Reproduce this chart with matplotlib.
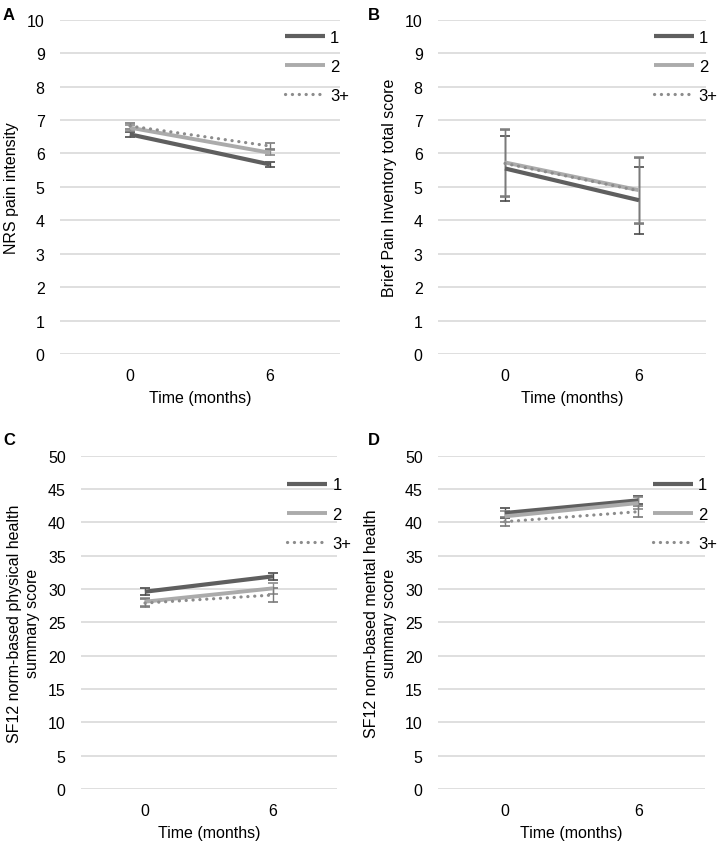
import matplotlib.pyplot as plt

plt.rcParams['font.family'] = ['Liberation Sans', 'DejaVu Sans']

months = [0, 6]
series_names = ['1', '2', '3+']

# panel A: NRS pain intensity
nrs_1 = [6.57, 5.67]
nrs_2 = [6.77, 6.02]
nrs_3 = [6.82, 6.22]
nrs_err = [[0.08, 0.07], [0.09, 0.08], [0.09, 0.10]]

# panel B: Brief Pain Inventory
bpi_1 = [5.55, 4.60]
bpi_2 = [5.73, 4.90]
bpi_3 = [5.70, 4.88]
bpi_err = [[0.98, 1.00], [1.00, 0.98], [1.00, 0.98]]

# panel C: SF12 physical
pcs_1 = [29.6, 31.9]
pcs_2 = [28.1, 30.1]
pcs_3 = [27.9, 29.1]
pcs_err = [[0.5, 0.5], [0.6, 0.8], [0.6, 1.0]]

# panel D: SF12 mental
mcs_1 = [41.4, 43.3]
mcs_2 = [40.9, 42.9]
mcs_3 = [40.1, 41.6]
mcs_err = [[0.7, 0.6], [0.8, 0.9], [0.7, 0.8]]

W, H = 724, 845
fig = plt.figure(figsize=(W / 100, H / 100), dpi=100)


def add_ax(left, right, top, bottom):
    return fig.add_axes([left / W, 1 - bottom / H, (right - left) / W, (bottom - top) / H])


styles = [
    dict(color='#5f5f5f', lw=3.0, ls='-', solid_capstyle='butt'),
    dict(color='#ababab', lw=2.8, ls='-', solid_capstyle='butt'),
    dict(color='#8c8c8c', lw=2.3, ls=(0, (0.05, 2.1)), dash_capstyle='round'),
]
err_colors = ['#4a4a4a', '#8a8a8a', '#7a7a7a']


def panel(ax, data, errs, ymax, ystep, ylabel, leg_y):
    ax.set_xlim(-3, 9)
    ax.set_ylim(0, ymax)
    ax.set_yticks(range(0, ymax + 1, ystep))
    ax.set_xticks(months)
    ax.grid(axis='y', color='#d9d9d9', lw=1.2)
    ax.set_axisbelow(True)
    for s in ax.spines.values():
        s.set_visible(False)
    ax.tick_params(length=0, labelsize=11.5, pad=10)
    ax.tick_params(axis='y', pad=11)
    ax.set_xlabel('Time (months)', fontsize=11.5, labelpad=5)
    ax.set_ylabel(ylabel, fontsize=11.5, labelpad=6)
    lines = []
    for vals, err, st, ec, name in zip(data, errs, styles, err_colors, series_names):
        ax.errorbar(months, vals, yerr=err, fmt='none', ecolor=ec, elinewidth=1.0,
                    capsize=3.5, capthick=1.2, zorder=3)
        ln, = ax.plot(months, vals, label=name, zorder=4, **st)
        lines.append(ln)
    ax.legend(handles=lines, loc='upper left', bbox_to_anchor=(0.78, leg_y), frameon=False,
              fontsize=12, handlelength=2.4, handletextpad=0.3, labelspacing=0.85,
              borderaxespad=0)
    return ax


axA = add_ax(60, 340, 20.7, 355)
panel(axA, [nrs_1, nrs_2, nrs_3], nrs_err, 10, 1, 'NRS pain intensity', 0.99)
axB = add_ax(438, 706, 20.7, 355)
panel(axB, [bpi_1, bpi_2, bpi_3], bpi_err, 10, 1, 'Brief Pain Inventory total score', 0.99)
axC = add_ax(81, 337, 456.7, 790)
panel(axC, [pcs_1, pcs_2, pcs_3], pcs_err, 50, 5,
      'SF12 norm-based physical health\nsummary score', 0.955)
axD = add_ax(438, 705, 456.7, 790)
panel(axD, [mcs_1, mcs_2, mcs_3], mcs_err, 50, 5,
      'SF12 norm-based mental health\nsummary score', 0.955)

for letter, x, y in [('A', 3, 20), ('B', 368, 20), ('C', 3, 445), ('D', 368, 445)]:
    fig.text(x / W, 1 - y / H, letter, fontsize=12, fontweight='bold')

fig.savefig('out.png', dpi=100)
